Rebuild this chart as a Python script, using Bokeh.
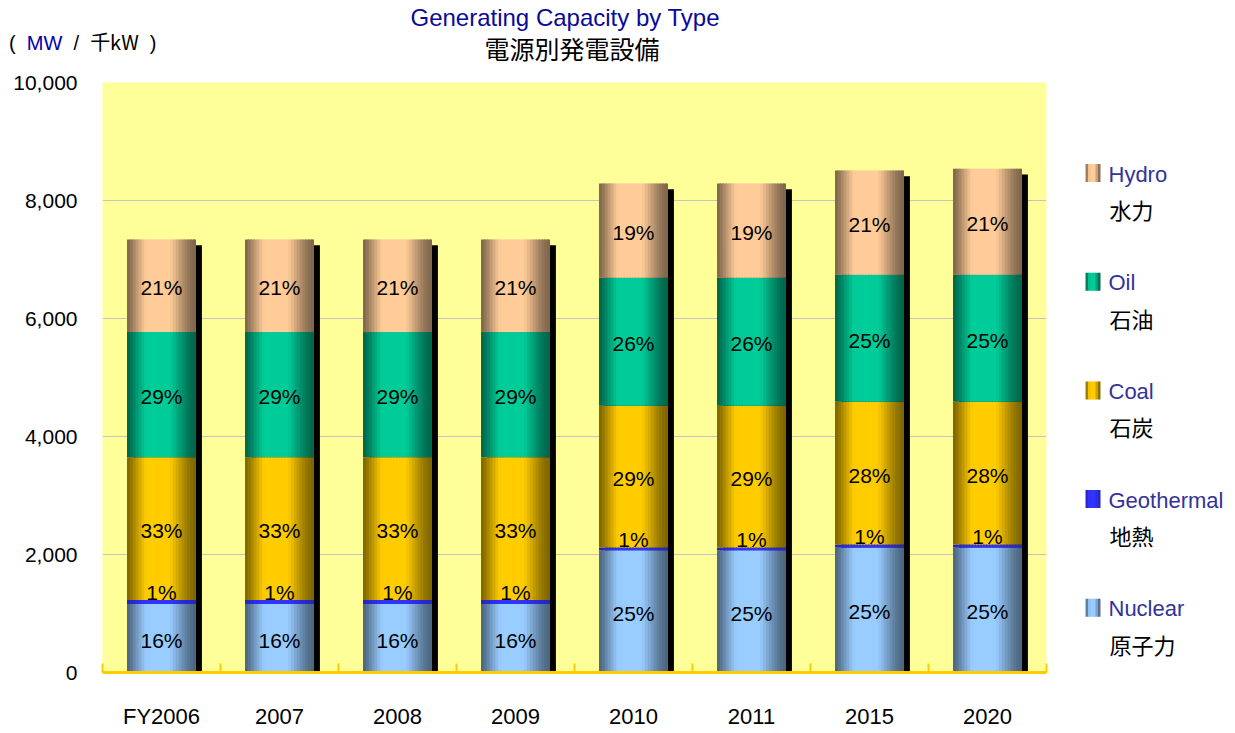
import math
from bokeh.plotting import figure
from bokeh.models import (ColumnDataSource, Range1d, FixedTicker, NumeralTickFormatter, Div)
from bokeh.transform import dodge
from bokeh.layouts import row, column
from bokeh.core.properties import value
from bokeh.embed import file_html
from bokeh.resources import INLINE

# ---------------- data (MW) ----------------
years = ["FY2006", "2007", "2008", "2009", "2010", "2011", "2015", "2020"]
nuclear = [1160, 1160, 1160, 1160, 2070, 2070, 2120, 2120]
geothermal = [70, 70, 70, 70, 50, 50, 50, 50]
coal = [2420, 2420, 2420, 2420, 2400, 2400, 2420, 2420]
oil = [2120, 2120, 2120, 2120, 2170, 2170, 2150, 2150]
hydro = [1570, 1570, 1570, 1570, 1600, 1600, 1770, 1800]

series_keys = ["nuclear", "geothermal", "coal", "oil", "hydro"]
series_vals = [nuclear, geothermal, coal, oil, hydro]
series_en = ["Nuclear", "Geothermal", "Coal", "Oil", "Hydro"]
series_jp = ["原子力", "地熱", "石炭", "石油", "水力"]
series_colors = ["#99CCFF", "#3333FF", "#FFCC00", "#00CC99", "#FFCC99"]
y_ticks = [0, 2000, 4000, 6000, 8000, 10000]

title_en = "Generating Capacity by Type"
title_jp = "電源別発電設備"
unit_mw = "MW"
unit_jp = "千kW"

SANS = "'Liberation Sans', Arial, sans-serif"
CJK = "'Noto Sans CJK JP', sans-serif"


def shade(hexc, f):
    r, g, b = int(hexc[1:3], 16), int(hexc[3:5], 16), int(hexc[5:7], 16)
    return "#%02x%02x%02x" % (min(255, int(r * f)), min(255, int(g * f)), min(255, int(b * f)))


def fac(t, lo=0.5):
    tp = t ** 0.85
    g = min(1.0, 1.15 * math.sin(math.pi * tp)) ** 1.6
    return lo + (1 - lo) * g


# ---------------- header (titles) ----------------
HH = 66
header_html = (
    '<div style="position:relative;width:1235px;height:%dpx;">'
    '<span style="position:absolute;left:565px;top:4px;transform:translateX(-50%%);'
    'white-space:nowrap;font-family:%s;font-size:24px;line-height:28px;color:#0A0A99;">%s</span>'
    '<span style="position:absolute;left:572px;top:33px;transform:translateX(-50%%);'
    'white-space:nowrap;font-family:%s;font-size:25px;line-height:30px;color:#000;">%s</span>'
    '<span style="position:absolute;left:9px;top:29px;white-space:pre;font-family:%s;'
    'font-size:20px;line-height:26px;color:#000;">(  <span style="color:#0000AA;">%s</span>'
    '  /  <span style="font-family:%s;">%s</span>  )</span>'
    '</div>' % (HH, SANS, title_en, CJK, title_jp, SANS, unit_mw, CJK, unit_jp)
)
header = Div(text=header_html, width=1235, height=HH, margin=0)

# ---------------- stacked columns ----------------
ncat = len(years)
pos = [i + 0.5 for i in range(ncat)]
totals = [sum(v) for v in zip(*series_vals)]
data = {"pos": pos, "year": years, "shadow_top": [t - 100 for t in totals]}
cum = [0] * ncat
for k, vals in zip(series_keys, series_vals):
    data[k + "_b"] = list(cum)
    cum = [c + v for c, v in zip(cum, vals)]
    data[k + "_t"] = list(cum)
    data[k + "_m"] = [(b + t) / 2 for b, t in zip(data[k + "_b"], data[k + "_t"])]
    data[k + "_pct"] = ["%d%%" % round(v / tot * 100) for v, tot in zip(vals, totals)]
src = ColumnDataSource(data)

H = 733 - HH
BT, BB = 16, 61          # frame on page: 82..672
MW_ = 1068
p = figure(x_range=Range1d(0, ncat), y_range=Range1d(0, 10000),
           width=MW_, height=H, output_backend="svg", toolbar_location=None,
           min_border_left=102, min_border_right=22,
           min_border_top=BT, min_border_bottom=BB)
p.background_fill_color = "#FFFF99"
p.border_fill_color = "white"
p.outline_line_color = None

p.yaxis.ticker = FixedTicker(ticks=y_ticks)
p.yaxis.formatter = NumeralTickFormatter(format="0,0")
p.yaxis.axis_line_color = None
p.yaxis.major_tick_line_color = None
p.yaxis.minor_tick_line_color = None
p.yaxis.major_label_standoff = 19
p.yaxis.major_label_text_font = SANS
p.yaxis.major_label_text_font_size = "21px"
p.yaxis.major_label_text_color = "black"
p.ygrid.grid_line_color = "#c4c4c4"
p.ygrid.grid_line_width = 1
p.xgrid.visible = False

xa = p.xaxis[0]
xa.ticker = FixedTicker(ticks=pos, minor_ticks=list(range(ncat + 1)))
xa.major_label_overrides = {pp: yy for pp, yy in zip(pos, years)}
xa.axis_line_color = "#FFCC00"
xa.axis_line_width = 3
xa.major_tick_line_color = None
xa.minor_tick_line_color = "#FFCC00"
xa.minor_tick_line_width = 2
xa.minor_tick_in = 9
xa.minor_tick_out = 0
xa.major_tick_in = 0
xa.major_tick_out = 0
xa.major_label_standoff = 31
xa.major_label_text_font = SANS
xa.major_label_text_font_size = "22px"
xa.major_label_text_color = "black"

W = 0.585
N = 24
sw = W / N
p.vbar(x=dodge("pos", 0.05), width=W, bottom=0, top="shadow_top",
       source=src, fill_color="black", line_color=None)
for k, col in zip(series_keys, series_colors):
    lo = 0.75 if k == "geothermal" else 0.5
    for j in range(N):
        t = (j + 0.5) / N
        left = -W / 2 + j * sw
        wid = sw if j == N - 1 else sw * 1.5
        p.vbar(x=dodge("pos", left + wid / 2), width=wid,
               bottom=k + "_b", top=k + "_t", source=src,
               fill_color=shade(col, fac(t, lo)), line_color=None)

for k in series_keys:
    p.text(x="pos", y=k + "_m", text=k + "_pct", source=src,
           text_align="center", text_baseline="middle",
           text_font=value(SANS), text_font_size="21px", text_color="black",
           y_offset=-9 if k == "geothermal" else 2)

# ---------------- legend (separate panel; frame aligned with main frame) ----------------
LW = 1235 - MW_
lg = figure(width=LW, height=H, x_range=Range1d(0, LW), y_range=Range1d(672, 82),
            output_backend="svg", toolbar_location=None,
            min_border_left=0, min_border_right=0, min_border_top=BT, min_border_bottom=BB,
            x_axis_location=None, y_axis_location=None)
lg.outline_line_color = None
lg.background_fill_color = "white"
lg.border_fill_color = "white"
lg.xgrid.visible = False
lg.ygrid.visible = False

order = list(range(len(series_keys)))[::-1]
y0, dy = 172.5, 108.7
NS = 6
for k_pos, idx in enumerate(order):
    yc = y0 + k_pos * dy
    col = series_colors[idx]
    lo = 0.75 if series_keys[idx] == "geothermal" else 0.5
    lefts = [17 + j * 15 / NS for j in range(NS)]
    rights = [17 + (j + 1) * 15 / NS + (0.6 if j < NS - 1 else 0) for j in range(NS)]
    cols = [shade(col, fac((j + 0.5) / NS, lo)) for j in range(NS)]
    lg.quad(left=lefts, right=rights, top=[yc - 9] * NS, bottom=[yc + 9] * NS,
            fill_color=cols, line_color=None)
    lg.text(x=[40], y=[yc + 1], text=[series_en[idx]], text_align="left",
            text_baseline="middle", text_font=value(SANS), text_font_size="22px",
            text_color="#333399")
    lg.text(x=[41], y=[yc + 36], text=[series_jp[idx]], text_align="left",
            text_baseline="middle", text_font=value(CJK), text_font_size="22px",
            text_color="black")

layout = column(header, row(p, lg))
open("out.html", "w").write(file_html(layout, INLINE))
